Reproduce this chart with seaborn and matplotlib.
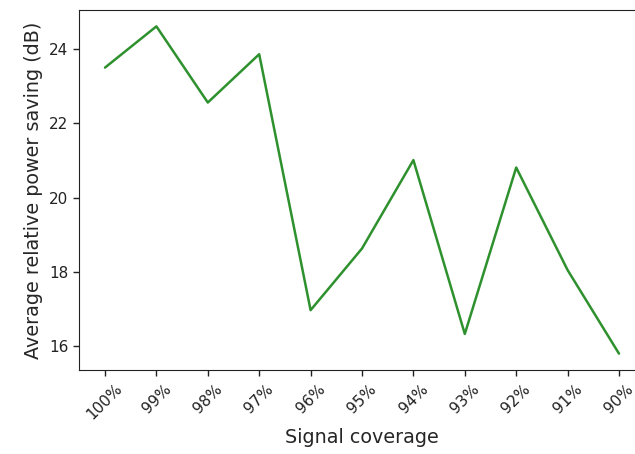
import matplotlib
matplotlib.use("Agg")
import matplotlib.pyplot as plt
import seaborn as sns
import pandas as pd

coverage = ["100%", "99%", "98%", "97%", "96%", "95%", "94%", "93%", "92%", "91%", "90%"]
power_saving_db = [23.50, 24.61, 22.56, 23.86, 16.97, 18.63, 21.01, 16.33, 20.81, 18.05, 15.80]

df = pd.DataFrame({"coverage": coverage, "saving": power_saving_db})

sns.set_style("ticks")
plt.rcParams["font.family"] = ["DejaVu Sans"]

fig = plt.figure(figsize=(6.35, 4.54), dpi=100)
# axes run slightly past the right edge of the canvas
ax = fig.add_axes([79.3 / 635, 84 / 454, 565.4 / 635, 360 / 454])

sns.lineplot(data=df, x="coverage", y="saving", color="#2e912e", linewidth=1.8,
             sort=False, ax=ax)

ax.set_xlim(-0.5, len(coverage) - 0.5)
ax.set_xlabel("Signal coverage", fontsize=13.8)
ax.set_ylabel("Average relative power saving (dB)", fontsize=13.8)
ax.tick_params(axis="both", labelsize=11, colors="#222222", length=4.5, width=1)
ax.tick_params(axis="x", labelrotation=45)
ax.set_yticks([16, 18, 20, 22, 24])
for spine in ax.spines.values():
    spine.set_visible(True)
    spine.set_color("#222222")
ax.spines["right"].set_visible(False)

fig.savefig("out.png", dpi=100)
